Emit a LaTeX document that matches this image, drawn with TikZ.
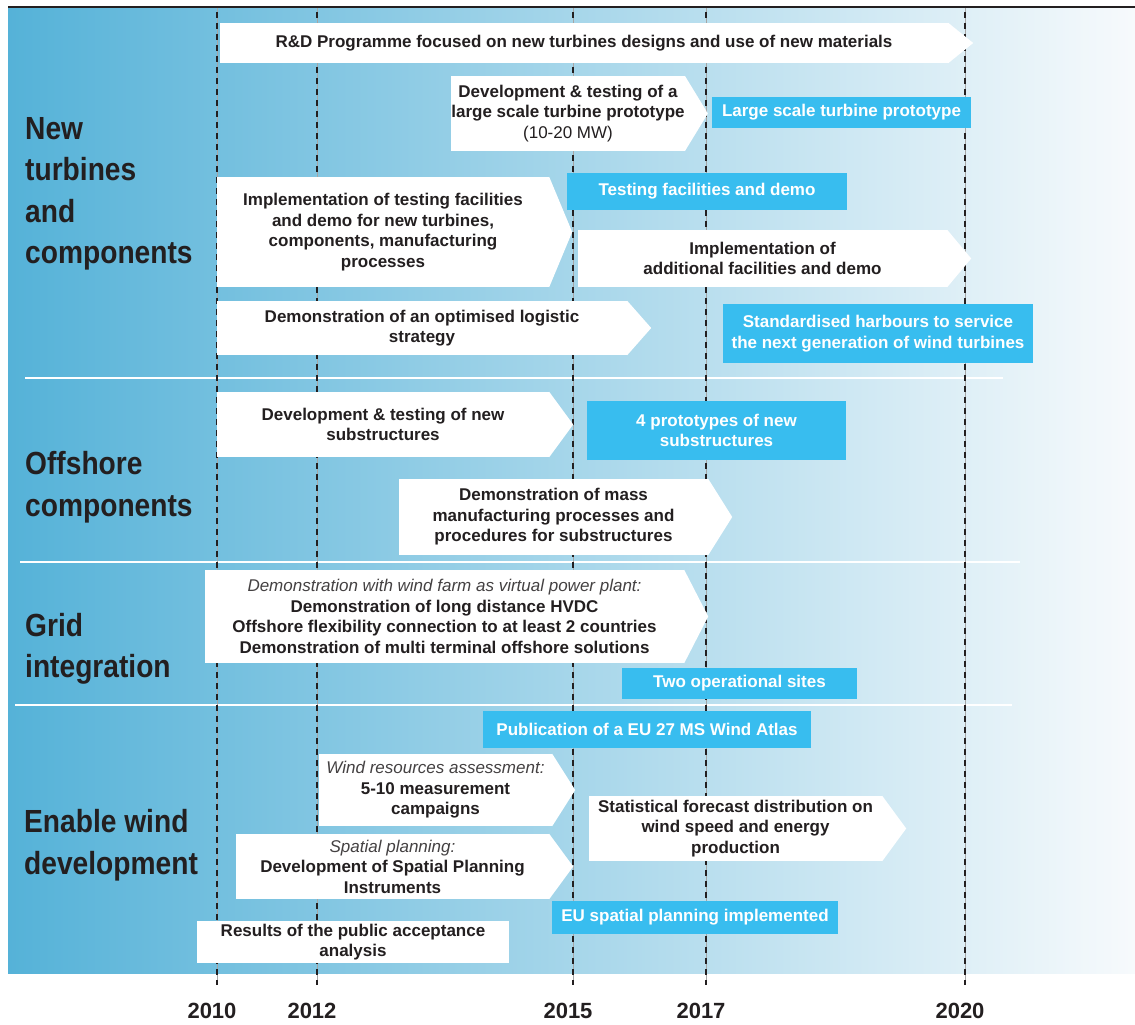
\documentclass[tikz,border=0pt]{standalone}
\usepackage{fontspec}
\setmainfont{Liberation Sans}
\newfontfamily\condfont{Liberation Sans}[FakeStretch=0.88]

\definecolor{skyblue}{HTML}{38BDEF}
\definecolor{inkgray}{HTML}{231F20}
\definecolor{bgleft}{HTML}{55B2D8}
\definecolor{bgmid}{HTML}{B4DAEC}
\definecolor{bgright}{HTML}{F7FAFC}

% pointed end of a white milestone box
\newcommand{\arrowtip}[2]{\fill[white] (#1.north east) -- ([xshift=#2pt]#1.east) -- (#1.south east) -- cycle;}

\begin{document}
\begin{tikzpicture}[x=1pt, y=-1pt,
    every node/.style={font=\fontsize{17}{20.5}\selectfont\bfseries, text=inkgray},
    wbox/.style={fill=white, inner sep=0pt, align=center},
    bbox/.style={fill=skyblue, text=white, inner sep=0pt, align=center},
    theme/.style={font=\condfont\fontsize{32}{41.5}\selectfont\bfseries, align=left, anchor=west, inner sep=0pt},
    yearlbl/.style={font=\fontsize{22}{26}\selectfont\bfseries}]
    \useasboundingbox (0,0) rectangle (1135,1025);

    % ---------- background ----------
    \shade[left color=bgleft, middle color=bgmid, right color=bgright] (8,8) rectangle (1135,973);
    \draw[line width=2.5pt, inkgray] (8,7) -- (1135,7);

    % section separators
    \draw[white, line width=2.5pt] (25,378) -- (1003,378);
    \draw[white, line width=2.5pt] (20,562) -- (1020,562);
    \draw[white, line width=2.5pt] (15,705) -- (1012,705);

    % year lines and labels
    \foreach \x/\yr in {217/2010, 317/2012, 573/2015, 706/2017, 965/2020} {
      \draw[gray!70, line width=0.6pt] (\x,8) -- (\x,985);
      \draw[inkgray, line width=1.8pt, dash pattern=on 6pt off 5pt] (\x,12) -- (\x,985);
      \node[yearlbl] (year\yr) at (\x-5,1011) {\yr};
    }

    % ---------- themes ----------
    \node[theme] (newturb) at (25,194) {New\\turbines\\and\\components};
    \node[theme] (offshore) at (25,487) {Offshore\\components};
    \node[theme] (grid) at (25,649) {Grid\\integration};
    \node[theme] (enable) at (24,845) {Enable wind\\development};

    % ---------- new turbines and components ----------
    \node[wbox, minimum width=728, minimum height=40] (rnd) at (584,43)
      {R\&D Programme focused on new turbines designs and use of new materials};
    \arrowtip{rnd}{25}
    \node[wbox, minimum width=230, minimum height=75] (bigdev) at (568,113.5)
      {Development \& testing of a\\large scale turbine prototype\\{\mdseries (10-20 MW)}};
    \arrowtip{bigdev}{23}
    \node[bbox, minimum width=259, minimum height=31] (bigproto) at (841.5,112.5)
      {Large scale turbine prototype};
    \node[wbox, minimum width=332, minimum height=110] (testimpl) at (383,232)
      {Implementation of testing facilities\\and demo for new turbines,\\components, manufacturing\\processes};
    \arrowtip{testimpl}{23}
    \node[bbox, minimum width=280, minimum height=37] (testdemo) at (707,191.5)
      {Testing facilities and demo};
    \node[wbox, minimum width=369, minimum height=57] (addimpl) at (762.5,258.5)
      {Implementation of\\additional facilities and demo};
    \arrowtip{addimpl}{24}
    \node[wbox, minimum width=410, minimum height=54] (logistic) at (422,328)
      {Demonstration of an optimised logistic\\strategy};
    \arrowtip{logistic}{24}
    \node[bbox, minimum width=310, minimum height=59] (harbours) at (878,333.5)
      {Standardised harbours to service\\the next generation of wind turbines};

    % ---------- offshore components ----------
    \node[wbox, minimum width=332, minimum height=65] (substr) at (383,424.5)
      {Development \& testing of new\\substructures};
    \arrowtip{substr}{24}
    \node[bbox, minimum width=259, minimum height=59] (fourproto) at (716.5,430.5)
      {4 prototypes of new\\substructures};
    \node[wbox, minimum width=309, minimum height=76] (massman) at (553.5,517)
      {Demonstration of mass\\manufacturing processes and\\procedures for substructures};
    \arrowtip{massman}{24}

    % ---------- grid integration ----------
    \node[wbox, minimum width=479, minimum height=93] (hvdc) at (444.5,616.5)
      {{\mdseries\itshape\color{inkgray!85} Demonstration with wind farm as virtual power plant:}\\
       Demonstration of long distance HVDC\\
       Offshore flexibility connection to at least 2 countries\\
       Demonstration of multi terminal offshore solutions};
    \arrowtip{hvdc}{24}
    \node[bbox, minimum width=235, minimum height=31] (twosites) at (739.5,683.5)
      {Two operational sites};

    % ---------- enable wind development ----------
    \node[bbox, minimum width=328, minimum height=37] (atlas) at (647,729.5)
      {Publication of a EU 27 MS Wind Atlas};
    \node[wbox, minimum width=233, minimum height=72] (windres) at (435.5,790)
      {{\mdseries\itshape\color{inkgray!85} Wind resources assessment:}\\
       5-10 measurement\\campaigns};
    \arrowtip{windres}{23}
    \node[wbox, minimum width=313, minimum height=65] (spatial) at (392.5,866.5)
      {{\mdseries\itshape\color{inkgray!85} Spatial planning:}\\
       Development of Spatial Planning\\Instruments};
    \arrowtip{spatial}{24}
    \node[wbox, minimum width=293, minimum height=65] (forecast) at (735.5,828.5)
      {Statistical forecast distribution on\\wind speed and energy\\production};
    \arrowtip{forecast}{24}
    \node[bbox, minimum width=286, minimum height=33] (euplan) at (695,917.5)
      {EU spatial planning implemented};
    \node[wbox, minimum width=312, minimum height=42] (accept) at (353,942)
      {Results of the public acceptance\\analysis};
\end{tikzpicture}
\end{document}
